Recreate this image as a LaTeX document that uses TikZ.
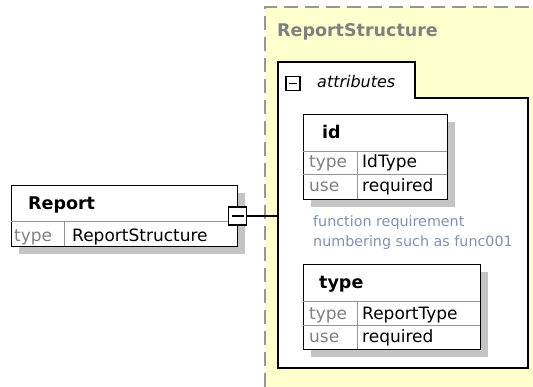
\documentclass[tikz,border=0pt]{standalone}
\usepackage{fontspec}
\setmainfont{DejaVu Sans}
\usepackage{xcolor}
\usepackage{tikz}
\usetikzlibrary{positioning,calc}
\definecolor{jaune}{RGB}{255,255,206}
\definecolor{bordgris}{RGB}{150,150,150}
\definecolor{titregris}{RGB}{128,128,128}
\definecolor{ombregris}{RGB}{196,196,196}
\definecolor{filetgris}{RGB}{150,150,150}
\definecolor{notebleu}{RGB}{128,146,176}
\tikzset{
  cadre/.style={draw=black,line width=1.4pt,fill=white},
  boite/.style={cadre,anchor=north west,inner sep=0pt},
  ombre/.style={fill=ombregris},
  filet/.style={draw=filetgris,line width=1pt},
  moins/.style={cadre,line width=1.9pt,minimum size=#1,inner sep=0pt,
    path picture={\draw[line width=1.6pt]
      ([xshift=3pt]path picture bounding box.west)--
      ([xshift=-3pt]path picture bounding box.east);}},
  nom/.style={anchor=base west,inner sep=0pt,font=\fontsize{17.5}{20}\selectfont\bfseries},
  cle/.style={anchor=base west,inner sep=0pt,font=\fontsize{17}{20}\selectfont,text=titregris},
  val/.style={anchor=base west,inner sep=0pt,font=\fontsize{17}{20}\selectfont},
  note/.style={anchor=base west,inner sep=0pt,font=\fontsize{14.3}{17}\selectfont,text=notebleu}
}

\begin{document}
\begin{tikzpicture}[x=1pt,y=-1pt]
    % pixels de l'image, y vers le bas
    \useasboundingbox (0,0) rectangle (533,387);
    \fill[white] (0,0) rectangle (533,387);
    % type complexe ReportStructure
    \fill[jaune] (265,7) rectangle (533,387);
    \draw[bordgris,line width=1.4pt,dash pattern=on 14pt off 7pt] (265,387)--(265,7)--(533,7);
    \node[nom,text=titregris] (rstitre) at (277,37) {ReportStructure};
    % conteneur des attributs
    \draw[cadre] (278,98)--(278,62)--(415,62)--(415,98)--(528,98)--(528,368)--(278,368)--cycle;
    \node[moins=14pt] (attmoins) at (293,83.5) {};
    \node[val,font=\fontsize{16}{20}\selectfont\itshape] (attnom) at (317,88) {attributes};
    \coordinate (attentree) at (278,216);
    % element Report
    \fill[ombre] (19,193) rectangle (245,254);
    \node[boite,minimum width=226pt,minimum height=61pt] (report) at (11,185) {};
    \draw[filet] (11,222)--(237,222);
    \draw[filet] (64,222)--(64,246);
    \node[nom] (reportnom) at (28,210) {Report};
    \node[cle] (reporttype) at (14,242) {type};
    \node[val] (reportval) at (72,242) {ReportStructure};
    \node[moins=18pt] (reportmoins) at (237.5,216) {};
    \draw[line width=1.4pt] (reportmoins) -- (attentree);
    % attribut id
    \fill[ombre] (311,122) rectangle (455,207);
    \node[boite,minimum width=144pt,minimum height=85pt] (idattr) at (303,114) {};
    \draw[filet] (303,152)--(447,152);
    \draw[filet] (303,175)--(447,175);
    \draw[filet] (357,152)--(357,199);
    \node[nom] (idnom) at (322,139) {id};
    \node[cle] (idtype) at (309,168) {type};
    \node[val] (idtypeval) at (362,168) {IdType};
    \node[cle] (iduse) at (309,192) {use};
    \node[val] (idusevval) at (362,192) {required};
    \node[note] (idnote1) at (313,227) {function requirement};
    \node[note] (idnote2) at (313,247) {numbering such as func001};
    % attribut type
    \fill[ombre] (311,272) rectangle (488,357);
    \node[boite,minimum width=177pt,minimum height=85pt] (typeattr) at (303,264) {};
    \draw[filet] (303,302)--(480,302);
    \draw[filet] (303,326)--(480,326);
    \draw[filet] (357,302)--(357,349);
    \node[nom] (typenom) at (319,289) {type};
    \node[cle] (typetype) at (309,320) {type};
    \node[val] (typetypeval) at (362,320) {ReportType};
    \node[cle] (typeuse) at (309,343) {use};
    \node[val] (typeuseval) at (362,343) {required};
\end{tikzpicture}
\end{document}
